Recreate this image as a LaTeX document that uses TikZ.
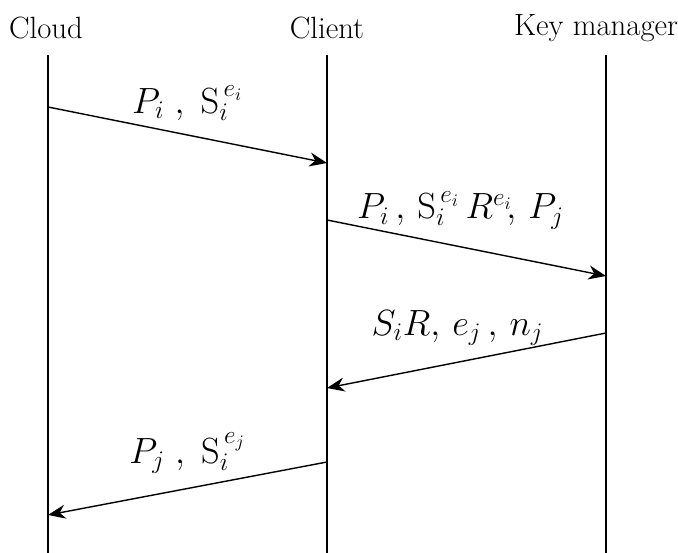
\documentclass[tikz,border=0pt]{standalone}
\usepackage{tikz}
\usetikzlibrary{arrows.meta,positioning}

\begin{document}
\begin{tikzpicture}[
  party/.style={font=\fontsize{17.5}{21}\selectfont, inner sep=0pt},
  lifeline/.style={line width=0.8pt},
  msg/.style={-{Stealth[length=10pt,width=8pt]}, line width=0.8pt},
  msglabel/.style={font=\fontsize{20}{24}\selectfont, inner sep=0pt, above=0.28cm}
]
\useasboundingbox (0,0) rectangle (13.56,-11.06);

% parties
\node[party] (cloud)  at (0.92,-0.56)  {Cloud};
\node[party] (client) at (6.54,-0.56)  {Client};
\node[party] (keym)   at (11.92,-0.56) {Key manager};

% lifelines
\coordinate (cloudtop)  at (0.96,-1.1);
\coordinate (cloudbot)  at (0.96,-11.06);
\coordinate (clienttop) at (6.54,-1.1);
\coordinate (clientbot) at (6.54,-11.06);
\coordinate (keymtop)   at (12.12,-1.1);
\coordinate (keymbot)   at (12.12,-11.06);
\draw[lifeline] (cloudtop) -- (cloudbot);
\draw[lifeline] (clienttop) -- (clientbot);
\draw[lifeline] (keymtop) -- (keymbot);

% message ends
\coordinate (c1) at (0.96,-2.14);
\coordinate (l1) at (6.54,-3.26);
\coordinate (l2) at (6.54,-4.4);
\coordinate (k2) at (12.12,-5.52);
\coordinate (k3) at (12.12,-6.66);
\coordinate (l3) at (6.54,-7.76);
\coordinate (l4) at (6.54,-9.24);
\coordinate (c4) at (0.96,-10.3);

% messages
\draw[msg] (c1) -- node[msglabel] (m1) {$P_i\;,\;\mathrm{S}_i^{\,e_i}$} (l1);
\draw[msg] (l2) -- node[msglabel, above=0.36cm, xshift=-0.12cm] (m2) {$P_i\,,\,\mathrm{S}_i^{\,e_i}\,R^{e_i}\!,\,P_j$} (k2);
\draw[msg] (k3) -- node[msglabel, xshift=-0.18cm] (m3) {$S_iR,\,e_j\,,\,n_j$} (l3);
\draw[msg] (l4) -- node[msglabel] (m4) {$P_j\;,\;\mathrm{S}_i^{\,e_j}$} (c4);
\end{tikzpicture}
\end{document}
